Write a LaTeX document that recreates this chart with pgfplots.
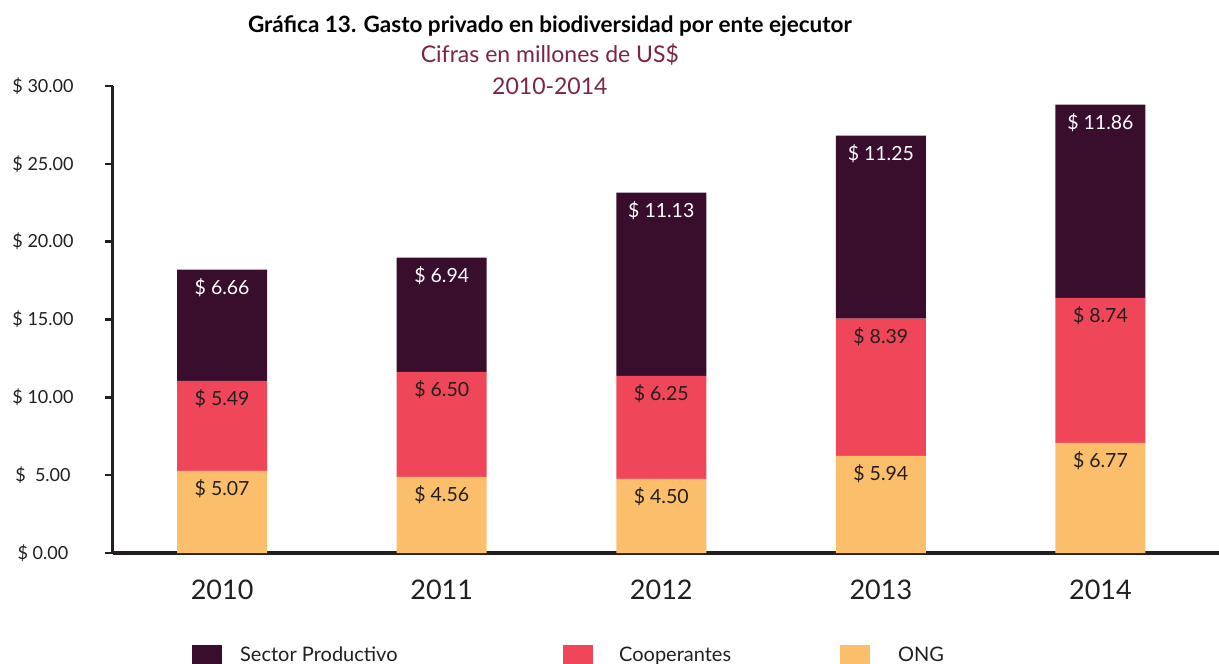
\documentclass[border=0pt]{standalone}
\usepackage{fontspec}
\setmainfont{Lato}
\usepackage{pgfplots}
\pgfplotsset{compat=1.18}
\usetikzlibrary{calc}
\definecolor{prod}{HTML}{380E2C}
\definecolor{coop}{HTML}{EF4759}
\definecolor{ong}{HTML}{FBBF6B}
\definecolor{axisdark}{HTML}{231F20}
\definecolor{subt}{HTML}{7D2446}

\begin{document}
\begin{tikzpicture}
\begin{axis}[
    name=ax,
    scale only axis, width=1106pt, height=467pt,
    ybar stacked, bar width=90pt,
    xmin=-0.497, xmax=4.54, ymin=0, ymax=30,
    clip=false,
    axis x line*=bottom, axis y line*=left,
    x axis line style={line width=4pt, draw=axisdark},
    y axis line style={line width=3pt, draw=axisdark},
    xtick={0,1,2,3,4}, xticklabels={2010,2011,2012,2013,2014},
    xtick style={draw=none},
    xticklabel style={font=\fontsize{27}{30}\selectfont, text=axisdark, anchor=center, yshift=-29pt},
    ytick={0,5,10,15,20,25,30},
    yticklabels={\$ 0.00,\$\ \ 5.00,\$ 10.00,\$ 15.00,\$ 20.00,\$ 25.00,\$ 30.00},
    ytick style={line width=2.5pt, draw=axisdark},
    tick align=outside, major tick length=8pt,
    yticklabel style={font=\fontsize{18}{20}\selectfont, text=axisdark, anchor=center, xshift=-62pt},
    point meta=explicit symbolic,
    nodes near coords,
    visualization depends on={rawy \as \segy},
    % labels sit near the top of each segment (pgfplots puts them mid-segment)
    every node near coord/.append style={font=\fontsize{19.5}{22}\selectfont, text=axisdark,
        anchor=center, yshift={(\segy*7.783-18)*1pt}},
    reverse legend,
    legend columns=3,
    legend style={at={(0.0714,-0.197)}, anchor=north west, draw=none, fill=none,
        inner sep=0pt, nodes={inner sep=0pt}, column sep=0pt,
        font=\fontsize{20}{24}\selectfont, text=axisdark},
    legend image code/.code={\fill[#1,draw=none] (0pt,-10pt) rectangle (30pt,10pt);},
]
% ONG (bottom)
\addplot[fill=ong, draw=none] coordinates {
    (0,5.27) [\$ 5.07] (1,4.89) [\$ 4.56] (2,4.76) [\$ 4.50] (3,6.24) [\$ 5.94] (4,7.07) [\$ 6.77]
};
\addlegendentry{\hspace{28pt}\makebox[60pt][l]{ONG}}
% Cooperantes
\addplot[fill=coop, draw=none] coordinates {
    (0,5.79) [\$ 5.49] (1,6.75) [\$ 6.50] (2,6.62) [\$ 6.25] (3,8.81) [\$ 8.39] (4,9.32) [\$ 8.74]
};
\addlegendentry{\hspace{26pt}\makebox[221pt][l]{Cooperantes}}
% Sector Productivo (top)
\addplot[fill=prod, draw=none, every node near coord/.append style={text=white}] coordinates {
    (0,7.14) [\$ 6.66] (1,7.33) [\$ 6.94] (2,11.77) [\$ 11.13] (3,11.77) [\$ 11.25] (4,12.41) [\$ 11.86]
};
\addlegendentry{\hspace{18pt}\makebox[323pt][l]{Sector Productivo}}

\node[font=\bfseries\fontsize{22.5}{26}\selectfont, text=black] at (rel axis cs:0.395,1.1285) {Gráfica 13. Gasto privado en biodiversidad por ente ejecutor};
\node[font=\fontsize{23}{26}\selectfont, text=subt] at (rel axis cs:0.395,1.0685) {Cifras en millones de US\$};
\node[font=\fontsize{23}{26}\selectfont, text=subt] at (rel axis cs:0.395,1.0) {2010-2014};
\end{axis}
\pgfresetboundingbox
\path[use as bounding box] ($(ax.south west)+(-113pt,-111pt)$) rectangle ($(ax.south west)+(1106pt,553pt)$);
\end{tikzpicture}
\end{document}
